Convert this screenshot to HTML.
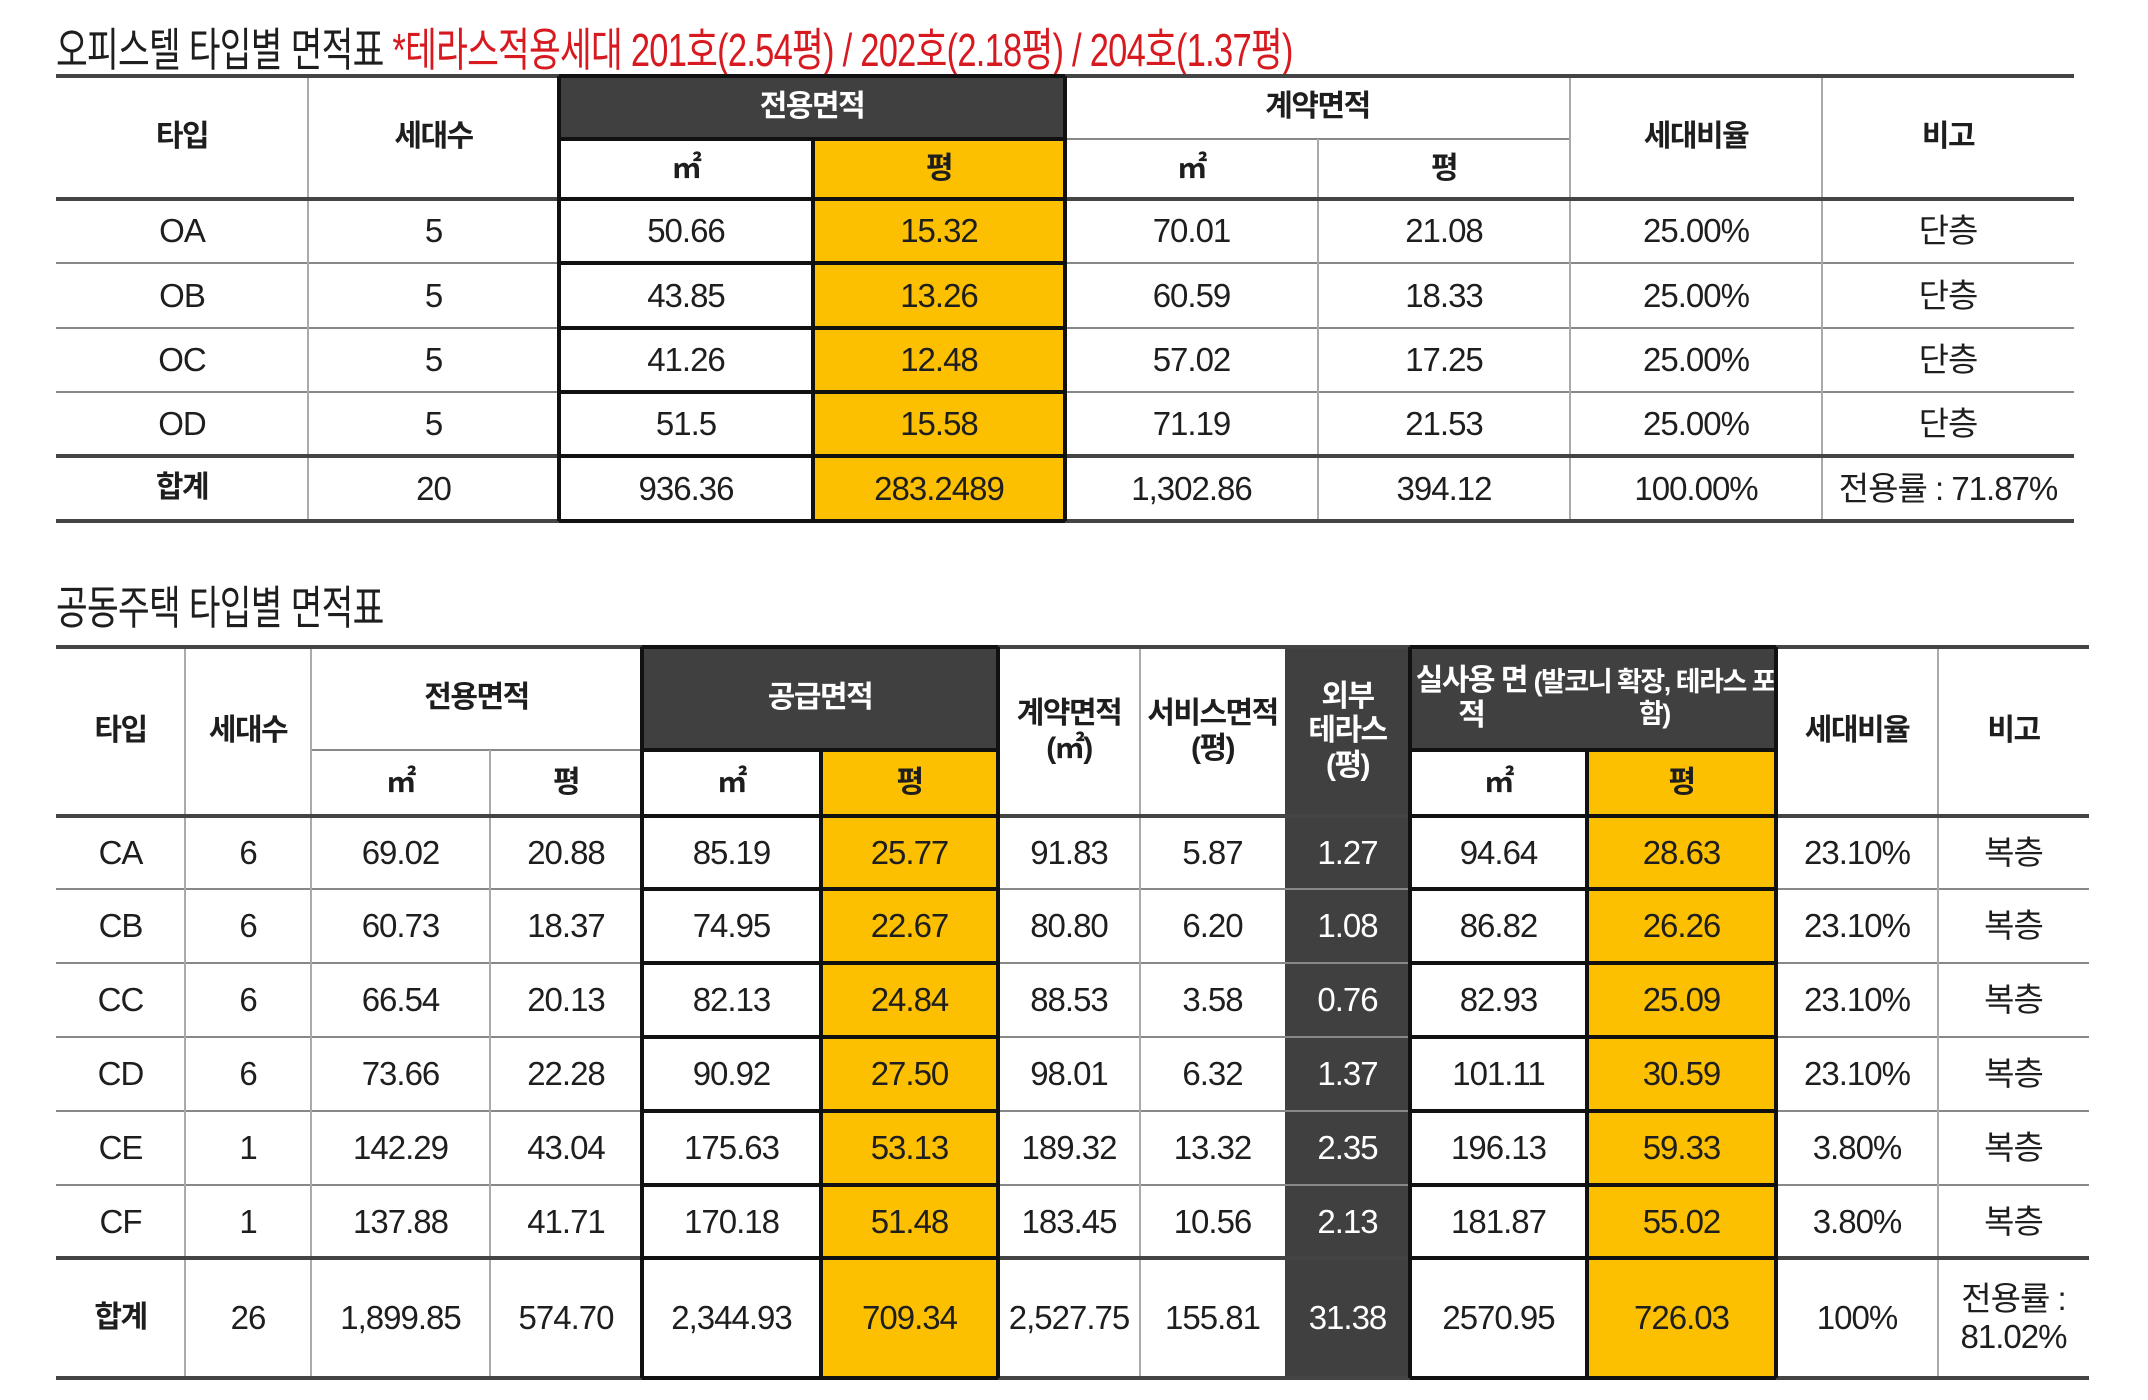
<!DOCTYPE html>
<html><head><meta charset="utf-8">
<style>
html,body{margin:0;padding:0;background:#fff;}
body{width:2148px;height:1400px;position:relative;overflow:hidden;font-family:"Liberation Sans","Noto Sans CJK KR",sans-serif;color:#1e1e1e;}
.c{position:absolute;display:flex;align-items:center;justify-content:center;text-align:center;font-size:33px;letter-spacing:-1px;line-height:1.15;box-sizing:border-box;}
.h{font-weight:bold;font-size:30px;letter-spacing:-1.5px;}
.dk{background:#404040;color:#fff;}
.yl{background:#FDC000;}
.ln{position:absolute;}
.title{position:absolute;left:56px;font-size:46px;white-space:nowrap;transform:scaleX(0.75);transform-origin:left top;letter-spacing:-1px;}
</style></head>
<body>
<div class="title" style="top:14px">오피스텔 타입별 면적표 <span style="color:#d71920">*테라스적용세대 201호(2.54평) / 202호(2.18평) / 204호(1.37평)</span></div>
<div class="title" style="top:572px">공동주택 타입별 면적표</div>
<div id="root"></div>
<script>
const root=document.getElementById('root');
function cell(x1,y1,x2,y2,text,cls,name){
  const d=document.createElement('div');
  d.className='c '+(cls||'');
  d.style.left=x1+'px';d.style.top=y1+'px';d.style.width=(x2-x1)+'px';d.style.height=(y2-y1)+'px';
  d.innerHTML=text;
  
  
  root.appendChild(d);
}
function line(x1,y1,x2,y2,w,color){
  const d=document.createElement('div');
  d.className='ln';
  if(y1===y2){d.style.left=x1+'px';d.style.top=(y1-w/2)+'px';d.style.width=(x2-x1)+'px';d.style.height=w+'px';}
  else{d.style.left=(x1-w/2)+'px';d.style.top=y1+'px';d.style.width=w+'px';d.style.height=(y2-y1)+'px';}
  d.style.background=color;
  
  
  root.appendChild(d);
}

// ===== Table 1 =====
const t1Types=['OA','OB','OC','OD','합계'];
const t1Units=['5','5','5','5','20'];
const t1ExM2=['50.66','43.85','41.26','51.5','936.36'];
const t1ExPy=['15.32','13.26','12.48','15.58','283.2489'];
const t1CtM2=['70.01','60.59','57.02','71.19','1,302.86'];
const t1CtPy=['21.08','18.33','17.25','21.53','394.12'];
const t1Ratio=['25.00%','25.00%','25.00%','25.00%','100.00%'];
const t1Note=['단층','단층','단층','단층','전용률 : 71.87%'];
const X1=[56,308,559,813,1065,1318,1570,1822,2074];
const Y1=[76,139,199,263,328,392,456,521];
cell(559,76,1065,139,'전용면적','h dk','exclusive-area-header');
cell(559,139,813,199,'㎡','h','exclusive-m2-header');
cell(813,139,1065,199,'평','h yl','exclusive-pyeong-header');
cell(56,76,308,199,'타입','h','type-header');
cell(308,76,559,199,'세대수','h','units-header');
cell(1065,76,1570,139,'계약면적','h','contract-area-header');
cell(1065,139,1318,199,'㎡','h','contract-m2-header');
cell(1318,139,1570,199,'평','h','contract-pyeong-header');
cell(1570,76,1822,199,'세대비율','h','ratio-header');
cell(1822,76,2074,199,'비고','h','note-header');
const cols1=[t1Types,t1Units,t1ExM2,t1ExPy,t1CtM2,t1CtPy,t1Ratio,t1Note];
for(let r=0;r<5;r++){
  for(let c=0;c<8;c++){
    cell(X1[c],Y1[r+2],X1[c+1],Y1[r+3],cols1[c][r],(c===3?'yl ':'')+(r===4&&c===0?'h':''),'officetel-cell-r'+r+'-c'+c);
  }
}
for(let i=3;i<7;i++) if(i!==6) line(56,Y1[i],2074,Y1[i],2,'#888');
line(1065,139,1570,139,2,'#888');
[1,7].forEach(i=>line(X1[i],76,X1[i],521,1.5,'#aaa'));
[4,5,6].forEach(i=>line(X1[i],i===5?139:76,X1[i],521,1.5,'#aaa'));
line(56,76,2074,76,4,'#444');
line(56,199,2074,199,4,'#444');
line(56,456,2074,456,4,'#444');
line(56,521,2074,521,4,'#444');
// black frame
for(let i=1;i<8;i++) line(559,Y1[i],1065,Y1[i],4,'#111');
line(559,76,1065,76,4,'#111');
line(559,76,559,521,4,'#111');line(1065,76,1065,521,4,'#111');line(813,139,813,521,4,'#111');

// ===== Table 2 =====
const t2Types=['CA','CB','CC','CD','CE','CF','합계'];
const t2Units=['6','6','6','6','1','1','26'];
const t2ExM2=['69.02','60.73','66.54','73.66','142.29','137.88','1,899.85'];
const t2ExPy=['20.88','18.37','20.13','22.28','43.04','41.71','574.70'];
const t2SpM2=['85.19','74.95','82.13','90.92','175.63','170.18','2,344.93'];
const t2SpPy=['25.77','22.67','24.84','27.50','53.13','51.48','709.34'];
const t2Ct=['91.83','80.80','88.53','98.01','189.32','183.45','2,527.75'];
const t2Svc=['5.87','6.20','3.58','6.32','13.32','10.56','155.81'];
const t2Ter=['1.27','1.08','0.76','1.37','2.35','2.13','31.38'];
const t2UseM2=['94.64','86.82','82.93','101.11','196.13','181.87','2570.95'];
const t2UsePy=['28.63','26.26','25.09','30.59','59.33','55.02','726.03'];
const t2Ratio=['23.10%','23.10%','23.10%','23.10%','3.80%','3.80%','100%'];
const t2Note=['복층','복층','복층','복층','복층','복층','전용률 :<br>81.02%'];
const X2=[56,185,311,490,642,821,998,1140,1285,1410,1587,1776,1938,2089];
const Y2=[647,750,816,889,963,1037,1111,1185,1258,1378];
cell(1285,647,1410,1378,'','dk','terrace-column-bg');
cell(56,647,185,816,'타입','h','type-header-2');
cell(185,647,311,816,'세대수','h','units-header-2');
cell(311,647,642,750,'전용면적','h','exclusive-area-header-2');
cell(311,750,490,816,'㎡','h','exclusive-m2-header-2');
cell(490,750,642,816,'평','h','exclusive-pyeong-header-2');
cell(642,647,998,750,'공급면적','h dk','supply-area-header');
cell(642,750,821,816,'㎡','h','supply-m2-header');
cell(821,750,998,816,'평','h yl','supply-pyeong-header');
cell(998,647,1140,816,'계약면적<br>(㎡)','h','contract-area-header-2');
cell(1140,647,1285,816,'서비스면적<br>(평)','h','service-area-header');
cell(1285,647,1410,816,'외부<br>테라스<br>(평)','h dk','terrace-header');
cell(1410,647,1776,750,'실사용 면적<br><span style="font-size:27px">(발코니 확장, 테라스 포함)</span>','h dk','actual-area-header');
cell(1410,750,1587,816,'㎡','h','actual-m2-header');
cell(1587,750,1776,816,'평','h yl','actual-pyeong-header');
cell(1776,647,1938,816,'세대비율','h','ratio-header-2');
cell(1938,647,2089,816,'비고','h','note-header-2');
const cols2=[t2Types,t2Units,t2ExM2,t2ExPy,t2SpM2,t2SpPy,t2Ct,t2Svc,t2Ter,t2UseM2,t2UsePy,t2Ratio,t2Note];
for(let r=0;r<7;r++){
  for(let c=0;c<13;c++){
    let cls=(c===5||c===10)?'yl ':'';
    if(c===8) cls='dk ';
    if(r===6&&c===0) cls+='h';
    cell(X2[c],Y2[r+2],X2[c+1],Y2[r+3],cols2[c][r],cls,'apartment-cell-r'+r+'-c'+c);
  }
}
for(let i=3;i<8;i++) line(56,Y2[i],2089,Y2[i],2,'#888');
line(311,750,642,750,2,'#888');
[1,2,6,7,12].forEach(i=>line(X2[i],647,X2[i],1378,1.5,'#aaa'));
line(490,750,490,1378,1.5,'#aaa');
line(56,647,2089,647,4,'#444');
line(56,816,2089,816,4,'#444');
line(56,1258,2089,1258,4,'#444');
line(56,1378,2089,1378,4,'#444');
// black frames
[[642,998,821],[1410,1776,1587]].forEach(([a,b,m])=>{
  line(a,647,b,647,4,'#111');
  for(let i=1;i<10;i++) line(a,Y2[i],b,Y2[i],4,'#111');
  line(a,647,a,1378,4,'#111');line(b,647,b,1378,4,'#111');line(m,750,m,1378,4,'#111');
});
</script>
</body></html>
